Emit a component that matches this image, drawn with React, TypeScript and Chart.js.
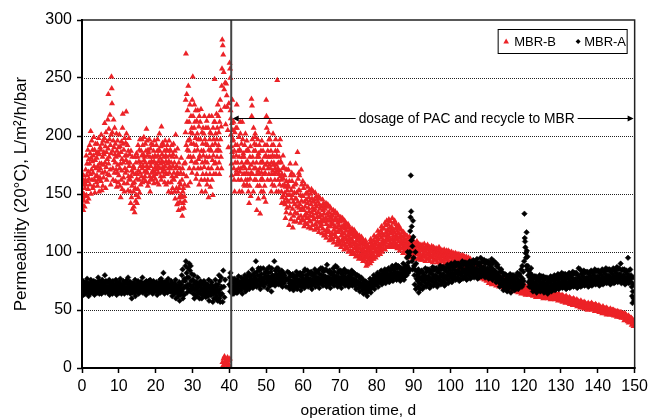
import React, { useEffect, useRef } from "react";
import { Chart, registerables } from "chart.js";

Chart.register(...registerables);

const FONT = '"Liberation Sans", Arial, Helvetica, sans-serif';

// axis ranges
const xMin = 0;
const xMax = 150;
const xStep = 10;
const yMin = 0;
const yMax = 300;
const yStep = 50;

// annotation values (data units)
const pacStartDay = 40.5;
const arrowLevel = 215.5;
const noteText = "dosage of PAC and recycle to MBR";
const xTitle = "operation time, d";
const yTitle = "Permeability (20°C), L/m²/h/bar";
const seriesLabels = ["MBR-B", "MBR-A"];

// MBR-B permeability readings, one row per day (samples spread over the day)
const mbrB: number[][] = [
  [152,141,163,147,158,136,166,150,144,160,139,155,148,162],
  [171,158,183,149,166,176,143,161,188,154,169,146,180,163],
  [176,192,158,185,167,204,150,181,171,196,162,178,188,155],
  [168,183,157,199,174,162,188,151,179,193,165,172,185,160],
  [181,166,193,157,174,186,162,198,170,152,184,176,164,190],
  [172,188,161,201,176,153,193,168,182,157,196,175,164,186],
  [184,198,211,169,177,191,155,203,173,186,162,195,180,167],
  [214,189,236,176,206,182,166,197,218,171,192,158,185,201],
  [251,241,228,203,187,172,162,196,214,179,190,168,207,184],
  [177,193,161,182,171,202,156,187,168,196,175,160,184,190],
  // 10
  [166,183,201,172,157,191,176,147,186,162,195,170,180,154],
  [207,219,193,177,164,188,159,152,198,172,183,168,194,179],
  [221,202,183,170,159,192,177,153,187,165,198,174,163,184],
  [177,162,152,142,187,165,147,170,157,182,137,168,159,174],
  [152,139,172,160,134,182,155,167,144,177,149,185,163,142],
  [167,182,154,192,170,147,178,162,188,151,197,168,174,158],
  [177,187,165,183,197,172,160,192,174,184,163,199,179,169],
  [182,165,177,193,161,187,170,206,174,196,168,183,157,188],
  [172,186,160,177,197,165,182,152,189,174,163,193,178,168],
  [177,162,182,170,192,165,187,159,178,196,169,183,173,163],
  // 20
  [167,182,176,192,171,160,187,197,174,183,168,178,158,188],
  [202,187,172,181,176,165,191,162,208,178,184,169,194,173],
  [177,192,165,182,171,187,160,174,196,168,183,178,158,188],
  [182,167,192,176,187,160,172,152,178,196,168,183,173,188],
  [172,187,160,177,151,192,165,182,155,174,184,163,193,168],
  [162,177,152,187,146,172,201,165,182,155,174,141,168,189],
  [152,142,167,136,177,155,147,160,172,143,158,168,149,181],
  [147,137,162,131,172,152,142,155,167,138,176,148,158,144],
  [177,203,231,271,192,165,236,212,188,222,157,196,243,182],
  [187,212,172,197,227,160,182,203,217,193,178,207,168,231],
  // 30
  [202,251,217,182,193,172,207,227,187,212,177,198,222,163],
  [192,177,213,167,202,188,222,172,197,180,208,158,217,183],
  [182,212,197,172,223,162,187,152,203,177,193,167,207,183],
  [187,202,173,217,162,197,178,152,193,207,167,182,213,158],
  [177,192,162,207,172,147,188,217,182,197,167,203,156,188],
  [202,187,172,217,162,192,179,149,207,183,197,167,212,176],
  [249,212,193,177,202,167,187,219,197,182,207,172,227,188],
  [217,192,203,177,167,212,187,231,197,222,182,208,172,243],
  [258,283,5,278,2,270,8,255,0,240,10,225,3,246,6],
  [210,4,245,7,235,1,225,9,205,3,190,6,228,2],
  // 40
  [2,263,8,258,250,222,215,201,191,176,166,211,186,231,196,205],
  [197,182,212,172,162,187,152,203,177,192,167,207,183,170],
  [227,207,192,177,167,187,162,172,199,182,152,188,169,212],
  [202,187,172,162,193,177,152,212,182,197,167,185,174,158],
  [182,167,192,157,172,202,162,177,187,168,196,158,178,188],
  [162,177,152,187,167,142,172,157,182,163,191,148,175,168],
  [232,217,226,197,182,167,177,152,207,187,172,193,162,199],
  [202,187,172,162,192,177,136,167,182,157,197,170,146,185],
  [182,167,192,157,172,133,177,162,187,152,168,196,163,178],
  [177,162,187,152,172,147,167,182,157,192,168,175,143,183],
  // 50
  [231,217,207,192,177,162,187,172,203,182,167,197,175,212],
  [197,182,172,162,187,152,177,167,192,158,183,170,202,175],
  [192,177,167,157,182,162,172,187,197,168,175,152,183,170],
  [248,187,172,162,177,152,167,182,192,158,170,197,165,178],
  [177,162,152,142,167,147,157,172,183,149,163,173,143,158],
  [166,151,141,129,156,146,134,161,171,138,153,144,158,149],
  [171,156,143,123,161,139,149,176,133,166,128,153,146,168],
  [161,149,137,121,156,143,131,166,126,151,141,158,134,146],
  [176,159,146,126,151,139,133,186,143,163,129,153,168,138],
  [166,153,141,125,149,136,131,171,144,158,128,148,138,161],
  // 60
  [148,127,155,136,122,143,131,158,139,125,150,133,145,129],
  [133,151,124,142,156,129,138,121,147,135,153,127,144,131],
  [150,126,141,120,154,134,146,123,138,131,152,128,143,136],
  [128,145,119,137,151,124,141,133,148,121,139,130,146,126],
  [143,120,134,148,117,130,141,125,137,146,122,132,139,127],
  [124,139,116,131,145,120,136,128,142,114,133,126,140,118],
  [137,115,129,142,112,124,139,119,133,127,141,117,131,122],
  [118,134,110,127,139,114,130,122,137,112,125,132,116,128],
  [131,111,124,136,108,119,133,115,127,122,135,113,129,117],
  [113,128,106,121,133,109,125,117,131,111,123,119,127,107],
  // 70
  [126,107,119,130,104,114,127,110,122,117,129,106,121,112],
  [109,123,102,116,127,106,120,113,125,104,118,111,124,108],
  [121,103,114,124,100,110,122,106,117,112,119,101,115,108],
  [105,118,98,111,120,101,115,108,117,99,113,106,119,103],
  [116,98,108,117,96,104,113,101,110,106,115,97,112,103],
  [100,112,94,106,114,97,109,103,111,95,107,101,113,98],
  [109,94,103,111,92,98,106,96,101,108,93,104,99,110],
  [95,104,88,99,107,91,102,89,97,105,93,100,96,103],
  [102,93,108,90,98,111,95,105,92,100,107,97,103,94],
  [97,110,94,105,114,100,96,108,103,112,95,106,101,109],
  // 80
  [113,100,109,97,118,104,111,99,107,116,102,114,105,98],
  [104,118,101,112,122,108,100,116,106,120,110,103,114,109],
  [120,106,114,125,102,110,123,108,117,104,127,112,119,115],
  [110,124,105,118,128,113,106,121,116,108,126,111,119,104],
  [122,107,116,129,111,105,119,114,125,109,117,106,127,112],
  [108,120,104,114,124,111,106,118,103,121,112,116,109,123],
  [116,104,112,101,120,107,114,103,110,119,106,113,108,117],
  [103,113,99,109,117,105,111,101,108,115,104,110,106,114],
  [110,100,106,114,97,103,108,101,112,98,105,109,102,113],
  [98,106,95,103,110,100,105,96,108,101,111,97,104,99],
  // 90
  [106,97,103,108,94,100,105,98,102,109],
  [99,105,94,101,107,96,103,98,106,93],
  [104,95,101,106,93,98,103,96,100,107],
  [97,103,92,100,105,95,102,98,106,94],
  [102,94,99,104,92,97,101,95,100,105],
  [96,101,91,98,104,94,100,97,103,93],
  [101,93,98,103,91,96,100,94,99,104],
  [95,100,90,97,102,93,99,96,101,92],
  [100,92,97,102,90,95,99,93,98,101],
  [94,99,89,96,101,92,98,95,100,91],
  // 100
  [98,90,95,100,88,93,97,91,96,99],
  [92,97,87,94,99,90,96,93,98,89],
  [96,88,93,98,86,91,95,89,94,97],
  [90,95,85,92,97,88,94,91,96,87],
  [94,86,91,96,84,89,93,87,92,95],
  [88,93,83,90,94,86,92,89,84,91],
  [91,84,89,92,81,86,90,83,88,85],
  [85,89,80,87,90,82,88,84,79,86],
  [87,80,85,88,77,82,86,79,84,81],
  [80,85,76,83,86,78,84,81,75,82],
  // 110
  [83,76,81,84,73,78,82,75,80,77],
  [76,81,72,79,82,74,80,77,73,78],
  [80,73,78,81,71,75,79,72,77,74],
  [74,78,70,76,79,72,77,75,71,73],
  [77,71,75,78,69,73,76,70,74,72],
  [71,75,68,73,76,70,74,72,69,75],
  [74,68,72,75,67,70,73,69,71,74],
  [68,72,66,70,74,67,71,69,73,67],
  [72,66,70,73,65,68,71,67,69,72],
  [66,70,64,68,72,65,69,67,71,65],
  // 120
  [70,64,68,71,63,66,69,65,67,70],
  [65,68,63,67,70,64,69,66,68,64],
  [68,63,66,69,62,65,67,64,68,63],
  [63,67,61,65,68,62,66,64,67,62],
  [67,62,65,68,61,64,66,63,67,62],
  [62,66,60,64,67,61,65,63,66,61],
  [66,61,64,66,60,63,65,62,64,61],
  [61,65,59,63,66,60,64,62,65,60],
  [64,60,63,65,59,61,64,60,62,63],
  [60,63,58,62,64,59,63,61,62,59],
  // 130
  [62,58,61,63,57,60,62,59,61,58],
  [58,61,56,60,62,57,61,59,60,57],
  [60,56,59,61,55,58,60,57,59,56],
  [56,59,54,58,60,55,59,57,58,55],
  [58,54,57,59,53,56,58,55,57,54],
  [54,57,52,56,58,53,57,55,56,53],
  [56,52,55,57,51,54,56,53,55,52],
  [52,55,50,54,56,51,55,53,54,51],
  [55,51,54,56,50,52,55,51,53,54],
  [51,54,49,53,55,50,54,52,53,50],
  // 140
  [53,49,52,54,48,51,53,50,52,49],
  [49,52,47,51,53,48,52,50,51,48],
  [51,47,50,52,46,49,51,48,50,47],
  [47,50,46,49,51,47,50,48,49,46],
  [50,46,48,50,45,47,49,46,48,49],
  [45,48,44,47,49,45,48,46,47,44],
  [48,44,46,48,43,45,47,44,46,47],
  [43,46,41,45,47,42,46,44,45,42],
  [44,40,43,45,39,41,44,40,42,43],
  [40,43,37,41,42,38,39,36,41,38],
];

// MBR-A permeability readings, one row per day
const mbrA: number[][] = [
  [66,72,69,75,63,70,67,73,64,71],
  [68,74,65,71,77,70,66,73,62,69],
  [70,64,73,68,76,67,71,65,74,69],
  [72,66,75,69,63,71,68,74,65,70],
  [69,74,65,72,78,68,71,64,75,67],
  [71,67,74,64,70,76,68,73,66,72],
  [73,68,80,65,71,75,69,66,74,70],
  [70,65,74,68,76,63,71,67,73,69],
  [67,73,70,64,75,69,72,66,71,68],
  [72,66,76,70,63,74,68,71,65,73],
  // 10
  [69,74,65,71,77,68,72,64,70,67],
  [71,66,75,68,73,64,70,67,74,69],
  [73,68,76,65,70,78,67,72,69,74],
  [70,64,74,67,72,60,69,65,73,68],
  [68,73,65,71,76,62,69,66,72,70],
  [72,67,75,70,64,73,68,71,66,74],
  [69,74,66,71,78,65,72,68,73,67],
  [71,66,74,68,63,75,70,67,72,69],
  [70,75,65,72,67,76,69,71,66,73],
  [68,73,64,70,75,66,71,67,72,69],
  // 20
  [71,66,74,69,63,72,68,70,65,73],
  [73,68,76,65,70,77,71,67,74,69],
  [70,82,66,74,64,72,68,71,67,75],
  [69,74,65,71,77,67,72,68,70,66],
  [71,66,75,68,73,62,69,65,72,67],
  [68,73,64,70,76,60,67,71,65,69],
  [66,71,62,68,74,58,65,69,63,67],
  [72,80,66,85,60,75,69,63,77,70],
  [75,88,92,70,82,65,78,72,86,68],
  [78,90,72,84,66,88,75,70,81,68],
  // 30
  [70,76,64,72,80,60,67,74,63,69],
  [68,74,62,71,78,65,70,66,73,60],
  [70,64,75,67,72,60,68,73,63,66],
  [69,75,63,71,66,73,61,68,70,64],
  [67,72,62,70,76,58,65,69,63,71],
  [68,63,74,66,71,57,64,69,60,67],
  [69,64,76,60,72,66,62,70,58,67],
  [72,65,80,60,75,57,68,63,78,70],
  [64,57,84,70,61,76],
  [],
  // 40
  [72,78,66,82,70,75,68,74,64,77],
  [68,74,64,71,77,66,72,69,75,65],
  [70,76,65,73,68,79,71,67,74,72],
  [72,67,78,70,75,64,73,69,77,71],
  [74,69,80,72,66,77,71,75,68,79],
  [75,70,82,73,68,79,72,76,70,80],
  [77,72,85,74,69,80,76,71,82,75],
  [78,73,92,76,70,83,75,80,72,86],
  [76,71,84,79,68,86,74,81,72,77],
  [77,72,86,75,70,81,78,73,83,79],
  // 50
  [78,73,85,76,68,82,79,74,87,71],
  [76,71,83,78,66,86,74,80,72,77],
  [79,74,92,77,71,84,76,81,73,86],
  [78,73,86,80,72,83,76,81,74,79],
  [77,72,84,79,70,81,75,82,73,78],
  [80,75,70,77,83],
  [76,70,82,73,68,79,75,71,80,74],
  [75,69,81,72,67,78,74,70,79,73],
  [77,70,83,74,68,80,76,71,81,73],
  [76,71,82,73,67,79,75,70,80,74],
  // 60
  [77,71,83,74,69,85,76,72,80,75],
  [78,72,84,75,70,81,77,73,82,76],
  [77,71,83,74,68,80,76,72,81,75],
  [79,73,85,76,70,82,78,74,83,77],
  [78,72,84,75,69,81,77,73,86,76],
  [80,74,86,77,71,83,79,75,84,78],
  [79,73,85,76,70,89,78,74,83,77],
  [78,72,84,75,69,81,77,73,82,76],
  [80,74,86,77,71,83,79,75,88,78],
  [79,73,87,76,70,82,78,74,84,77],
  // 70
  [78,72,84,75,69,81,77,73,82,76],
  [79,73,85,76,71,82,78,74,83,77],
  [77,72,83,75,70,80,76,73,81,74],
  [78,73,84,76,71,81,77,74,82,75],
  [76,71,81,74,68,79,75,72,80,73],
  [74,69,79,72,66,77,73,70,78,71],
  [72,67,76,70,64,74,71,68,75,69],
  [70,65,74,68,62,72,69,66,73,67],
  [73,68,77,70,65,75,72,69,76,71],
  [76,71,80,73,68,78,75,72,79,74],
  // 80
  [78,73,82,75,70,80,77,74,81,76],
  [79,74,84,77,72,81,78,75,83,76],
  [80,75,85,78,73,82,79,76,84,77],
  [81,76,86,79,74,84,80,77,85,78],
  [82,77,88,80,75,85,81,78,87,79],
  [83,78,89,81,76,86,82,79,88,80],
  [82,77,87,80,75,85,81,78,86,79],
  [84,78,90,82,76,86,83,79,88,81],
  [85,80,95,88,100,82,91,86,97,84],
  [100,118,130,166,135,110,122,92,105,85,127,113],
  // 90
  [95,88,80,72,85,100,68,90,77,83],
  [80,75,70,85,65,78,73,82,68,77],
  [78,72,84,76,68,82,75,80,70,79],
  [80,74,86,77,70,83,78,72,85,76],
  [79,73,85,76,69,82,77,71,84,75],
  [81,75,87,78,71,84,79,73,86,77],
  [80,74,86,77,70,83,78,72,85,76],
  [82,76,88,79,72,85,80,74,87,78],
  [81,75,87,78,71,84,79,73,86,77],
  [83,77,89,80,73,86,81,75,88,79],
  // 100
  [84,78,90,81,74,87,82,76,89,80],
  [85,79,91,82,76,88,83,77,90,81],
  [84,78,90,81,75,87,82,76,89,80],
  [86,80,92,83,77,89,84,78,91,82],
  [85,79,91,82,76,88,83,77,90,81],
  [86,80,92,83,77,89,84,78,91,82],
  [87,81,93,84,78,90,85,79,92,83],
  [86,80,94,83,77,89,84,78,91,82],
  [88,82,95,85,79,91,86,80,93,84],
  [87,81,93,84,78,90,85,79,92,83],
  // 110
  [86,80,92,83,77,89,84,78,91,82],
  [87,81,94,84,76,90,85,79,92,83],
  [84,78,91,81,74,88,82,76,89,80],
  [80,74,86,77,70,83,78,72,85,76],
  [77,71,82,74,67,80,75,69,81,73],
  [76,70,80,73,66,78,74,68,79,72],
  [77,71,81,74,65,79,75,69,80,73],
  [76,70,80,73,67,78,74,68,79,72],
  [77,71,82,74,68,80,75,70,81,73],
  [79,73,85,76,70,88,77,72,83,75],
  // 120
  [92,133,112,109,104,99,95,88,117,101,85,96],
  [88,80,74,84,70,78,82,76,72,86],
  [75,69,80,72,66,77,73,68,79,71],
  [74,68,79,71,65,76,72,67,78,70],
  [75,69,80,72,66,77,73,68,79,71],
  [74,68,79,71,65,76,72,67,78,70],
  [73,67,78,70,64,75,71,66,77,69],
  [74,68,79,71,66,76,72,67,78,70],
  [75,69,80,72,67,77,73,68,79,71],
  [76,70,81,73,68,78,74,69,80,72],
  // 130
  [77,71,82,74,69,79,75,70,81,73],
  [76,70,81,73,68,78,74,69,80,72],
  [77,71,82,74,69,80,75,70,81,73],
  [78,72,83,75,70,81,76,71,82,74],
  [77,71,82,74,69,80,75,70,86,73],
  [78,72,85,75,70,81,76,71,83,74],
  [79,73,84,76,71,82,77,72,83,75],
  [78,72,83,75,70,81,76,71,82,74],
  [79,73,84,76,71,82,77,72,83,75],
  [80,74,85,77,72,83,78,73,84,76],
  // 140
  [79,73,84,76,71,82,77,72,83,75],
  [80,74,85,77,72,83,78,73,84,76],
  [81,75,86,78,73,84,79,74,85,77],
  [80,74,85,77,72,83,78,73,84,76],
  [81,75,86,78,73,84,79,74,85,77],
  [82,76,87,79,74,85,80,75,86,78],
  [81,75,90,78,73,84,79,74,85,77],
  [80,74,85,77,72,83,78,73,84,76],
  [81,75,95,78,73,84,79,74,85,77],
  [80,74,70,62,56,66,78,60,72,58],
];

// each day's samples are spread over that day in recorded order
function toPoints(daily: number[][]) {
  const pts: { x: number; y: number }[] = [];
  daily.forEach((vals, day) => {
    vals.forEach((v, k) => pts.push({ x: day + k / vals.length, y: v }));
  });
  return pts;
}

const RED = "#ec2227";
const BLACK = "#000000";

const decorPlugin = {
  id: "decor",
  beforeDatasetsDraw(chart: any) {
    const { ctx, chartArea: a, scales } = chart;
    const y = scales.y;
    ctx.save();
    ctx.strokeStyle = "#222";
    ctx.lineWidth = 1;
    ctx.setLineDash([1, 1]);
    y.ticks.forEach((t: any) => {
      if (t.value <= yMin || t.value >= yMax) return;
      const py = Math.round(y.getPixelForValue(t.value)) + 0.5;
      ctx.beginPath();
      ctx.moveTo(a.left, py);
      ctx.lineTo(a.right, py);
      ctx.stroke();
    });
    ctx.restore();
  },
  afterDatasetsDraw(chart: any) {
    const { ctx, chartArea: a, scales } = chart;
    const x = scales.x;
    const y = scales.y;
    ctx.save();

    // PAC start line
    const vx = x.getPixelForValue(pacStartDay);
    ctx.strokeStyle = "#444";
    ctx.lineWidth = 2;
    ctx.beginPath();
    ctx.moveTo(vx, a.top);
    ctx.lineTo(vx, a.bottom);
    ctx.stroke();

    // arrow annotation
    const ay = Math.round(y.getPixelForValue(arrowLevel)) + 0.5;
    ctx.font = `13.8px ${FONT}`;
    const tw = ctx.measureText(noteText).width;
    const tcx = a.right - 168;
    const tl = tcx - tw / 2;
    const tr = tcx + tw / 2;
    ctx.strokeStyle = "#000";
    ctx.fillStyle = "#000";
    ctx.lineWidth = 1;
    const leftTip = vx + 1.5;
    const rightTip = a.right - 1;
    ctx.beginPath();
    ctx.moveTo(leftTip + 4, ay);
    ctx.lineTo(tl - 3, ay);
    ctx.moveTo(tr + 3, ay);
    ctx.lineTo(rightTip - 4, ay);
    ctx.stroke();
    ctx.beginPath();
    ctx.moveTo(leftTip, ay);
    ctx.lineTo(leftTip + 6, ay - 3);
    ctx.lineTo(leftTip + 6, ay + 3);
    ctx.closePath();
    ctx.fill();
    ctx.beginPath();
    ctx.moveTo(rightTip, ay);
    ctx.lineTo(rightTip - 6, ay - 3);
    ctx.lineTo(rightTip - 6, ay + 3);
    ctx.closePath();
    ctx.fill();
    ctx.textAlign = "center";
    ctx.textBaseline = "middle";
    ctx.fillText(noteText, tcx, ay + 0.5);

    // frame
    ctx.strokeStyle = "#222";
    ctx.lineWidth = 1.5;
    ctx.beginPath();
    ctx.moveTo(a.left, a.top);
    ctx.lineTo(a.right, a.top);
    ctx.lineTo(a.right, a.bottom);
    ctx.stroke();
    ctx.strokeStyle = "#000";
    ctx.lineWidth = 2;
    ctx.beginPath();
    ctx.moveTo(a.left, a.top - 1);
    ctx.lineTo(a.left, a.bottom);
    ctx.lineTo(a.right + 1, a.bottom);
    ctx.stroke();

    // legend box
    const bx = a.right - 136.5;
    const by = a.top + 9.5;
    const bw = 129;
    const bh = 24;
    ctx.fillStyle = "#fff";
    ctx.fillRect(bx, by, bw, bh);
    ctx.strokeStyle = "#000";
    ctx.lineWidth = 1;
    ctx.strokeRect(bx, by, bw, bh);
    const cy = by + bh / 2;
    ctx.font = `13px ${FONT}`;
    ctx.textAlign = "left";
    ctx.textBaseline = "middle";
    // MBR-B
    ctx.fillStyle = RED;
    ctx.beginPath();
    ctx.moveTo(bx + 8, cy - 3);
    ctx.lineTo(bx + 10.8, cy + 2);
    ctx.lineTo(bx + 5.2, cy + 2);
    ctx.closePath();
    ctx.fill();
    ctx.fillStyle = "#000";
    ctx.fillText(seriesLabels[0], bx + 16, cy + 1);
    // MBR-A
    const dx = bx + 80;
    ctx.beginPath();
    ctx.moveTo(dx, cy - 2.5);
    ctx.lineTo(dx + 2.5, cy);
    ctx.lineTo(dx, cy + 2.5);
    ctx.lineTo(dx - 2.5, cy);
    ctx.closePath();
    ctx.fill();
    ctx.fillText(seriesLabels[1], dx + 6, cy + 1);

    // axis titles
    ctx.font = `15.5px ${FONT}`;
    ctx.textAlign = "center";
    ctx.textBaseline = "alphabetic";
    ctx.fillText(xTitle, (a.left + a.right) / 2, 415);
    ctx.font = `17px ${FONT}`;
    ctx.translate(26, (a.top + a.bottom) / 2);
    ctx.rotate(-Math.PI / 2);
    ctx.fillText(yTitle, 0, 0);

    ctx.restore();
  },
};

export default function App() {
  const ref = useRef<HTMLCanvasElement | null>(null);
  useEffect(() => {
    if (!ref.current) return;
    const chart = new Chart(ref.current, {
      type: "scatter",
      data: {
        datasets: [
          {
            label: seriesLabels[0],
            data: toPoints(mbrB),
            pointStyle: "triangle",
            pointRadius: 3.5,
            pointBackgroundColor: RED,
            pointBorderWidth: 0,
            borderColor: RED,
            backgroundColor: RED,
            order: 2,
          },
          {
            label: seriesLabels[1],
            data: toPoints(mbrA),
            pointStyle: "rectRot",
            pointRadius: 2.8,
            pointBackgroundColor: BLACK,
            pointBorderColor: BLACK,
            pointBorderWidth: 0.5,
            borderColor: BLACK,
            backgroundColor: BLACK,
            order: 1,
          },
        ],
      },
      options: {
        responsive: false,
        animation: false,
        events: [],
        layout: { padding: { top: 20, right: 15, left: 0, bottom: 0 } },
        plugins: {
          legend: { display: false },
          tooltip: { enabled: false },
          title: { display: false },
        },
        scales: {
          x: {
            type: "linear",
            min: xMin,
            max: xMax,
            afterFit: (s: any) => {
              s.height = 50;
            },
            ticks: {
              stepSize: xStep,
              color: "#000",
              font: { size: 16, family: FONT },
              padding: 4,
              maxRotation: 0,
            },
            grid: {
              drawOnChartArea: false,
              drawTicks: true,
              tickLength: 5,
              tickColor: "#000",
              tickWidth: 1.5,
            },
            border: { display: false },
          },
          y: {
            type: "linear",
            min: yMin,
            max: yMax,
            afterFit: (s: any) => {
              s.width = 82;
            },
            ticks: {
              stepSize: yStep,
              color: "#000",
              font: { size: 16, family: FONT },
              padding: 5,
            },
            grid: {
              drawOnChartArea: false,
              drawTicks: true,
              tickLength: 5,
              tickColor: "#000",
              tickWidth: 1.5,
            },
            border: { display: false },
          },
        },
      },
      plugins: [decorPlugin],
    });
    return () => chart.destroy();
  }, []);
  return (
    <div style={{ position: "fixed", left: 0, top: 0, width: 652, height: 418, background: "#fff" }}>
      <canvas ref={ref} width={652} height={418} style={{ width: 652, height: 418, display: "block" }} />
    </div>
  );
}
